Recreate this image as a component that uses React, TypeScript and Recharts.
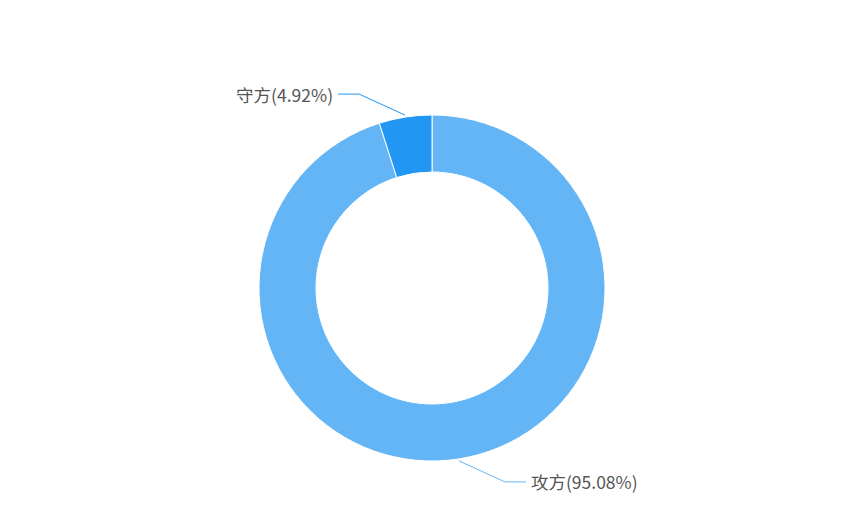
import { PieChart, Pie, Cell } from 'recharts';

const names = ['攻方', '守方'];
const values = [95.08, 4.92];
const colors = ['#64B5F6', '#2196F3'];

const data = names.map((name, i) => ({ name, value: values[i] }));

const RADIAN = Math.PI / 180;

const renderLabel = (props: any) => {
    const { cx, cy, midAngle, outerRadius, percent, index, name } = props;
    const cos = Math.cos(-midAngle * RADIAN);
    const sin = Math.sin(-midAngle * RADIAN);
    const sx = cx + (outerRadius + 2) * cos;
    const sy = cy + (outerRadius + 2) * sin;
    const side = cos >= 0 ? 1 : -1;
    const vert = sin >= 0 ? 1 : -1;
    const mx = sx + side * 46;
    const my = sy + vert * 21;
    const ex = mx + side * 21;
    const color = colors[index % colors.length];
    return (
        <g>
            <path d={`M${sx},${sy}L${mx},${my}L${ex},${my}`} stroke={color} fill="none" strokeWidth={1} />
            <text
                x={ex + side * 5}
                y={my}
                textAnchor={side > 0 ? 'start' : 'end'}
                dominantBaseline="central"
                fill="#555"
                fontSize={17.5}
                fontFamily='"Noto Sans CJK SC", "Noto Sans", sans-serif'
            >
                {`${name}(${(percent * 100).toFixed(2)}%)`}
            </text>
        </g>
    );
};

export default function App() {
    return (
        <div style={{ position: 'absolute', left: 0, top: 0, background: '#fff' }}>
            <PieChart width={864} height={518} margin={{ top: 0, right: 0, bottom: 0, left: 0 }}>
                <Pie
                    data={data}
                    dataKey="value"
                    nameKey="name"
                    cx={432}
                    cy={288}
                    innerRadius={116}
                    outerRadius={173}
                    startAngle={90}
                    endAngle={-270}
                    stroke="#fff"
                    strokeWidth={1}
                    label={renderLabel}
                    labelLine={false}
                    isAnimationActive={false}
                >
                    {data.map((d, i) => (
                        <Cell key={d.name} fill={colors[i]} />
                    ))}
                </Pie>
            </PieChart>
        </div>
    );
}
